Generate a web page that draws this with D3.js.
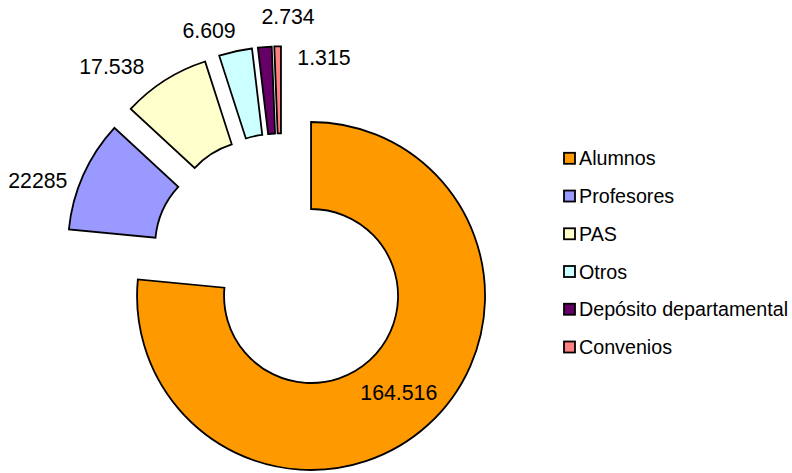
<!DOCTYPE html>
<html>
<head>
<meta charset="utf-8">
<script src="https://cdn.jsdelivr.net/npm/d3@7"></script>
<style>
  html, body { margin: 0; padding: 0; background: #fff; }
  svg { display: block; font-family: "Liberation Sans", Arial, sans-serif; }
</style>
</head>
<body>
<div id="chart"></div>
<script>
const SIZE = { width: 792, height: 473 }
const CENTER = { x: 281.8, y: 263.8 }
const RADIUS = { outer: 174, inner: 87, explode: 43.5, label: 252 }

// data
const categories = ["Alumnos", "Profesores", "PAS", "Otros", "Depósito departamental", "Convenios"];
const values = [164516, 22285, 17538, 6609, 2734, 1315];
const labels = ["164.516", "22285", "17.538", "6.609", "2.734", "1.315"];
const colors = ["#FF9900", "#9999FF", "#FFFFCC", "#CCFFFF", "#660066", "#FF8080"];

// label placement tweaks (layout, not data)
const LABEL_NUDGE = [[0, 0], [-14, 19.5], [-34.5, 15], [-19, 13], [26, 3.5], [47, 45.5]];

const svg = d3.select("#chart").append("svg")
    .attr("width", SIZE.width)
    .attr("height", SIZE.height);

const pie = d3.pie().sort(null).value(d => d);
const arcs = pie(values);
const arc = d3.arc().innerRadius(RADIUS.inner).outerRadius(RADIUS.outer);
const labelArc = d3.arc().innerRadius(RADIUS.label).outerRadius(RADIUS.label);
const midArc = d3.arc().innerRadius(RADIUS.inner).outerRadius(RADIUS.outer);

function offset(a, r){
  const m = (a.startAngle + a.endAngle) / 2;
  return [Math.sin(m) * r, -Math.cos(m) * r];
}

const g = svg.append("g").attr("transform", `translate(${CENTER.x},${CENTER.y})`);

g.selectAll(".slice").data(arcs).enter()
  .append("path")
  .attr("class", "slice")
  .attr("transform", d => { const o = offset(d, RADIUS.explode); return `translate(${o[0]},${o[1]})`; })
  .attr("d", arc)
  .attr("fill", (d, i) => colors[i])
  .attr("stroke", "#000")
  .attr("stroke-width", 1.8)
  .attr("stroke-linejoin", "miter");

g.selectAll(".val").data(arcs).enter()
  .append("text")
  .attr("class", "val")
  .attr("x", (d, i) => {
    if (i === 0) return offset(d, RADIUS.explode)[0] + midArc.centroid(d)[0] + LABEL_NUDGE[i][0];
    return labelArc.centroid(d)[0] + LABEL_NUDGE[i][0];
  })
  .attr("y", (d, i) => {
    if (i === 0) return offset(d, RADIUS.explode)[1] + midArc.centroid(d)[1] + LABEL_NUDGE[i][1];
    return labelArc.centroid(d)[1] + LABEL_NUDGE[i][1];
  })
  .attr("dy", "0.358em")
  .attr("text-anchor", "middle")
  .attr("font-size", "21.3px")
  .attr("fill", "#000")
  .text((d, i) => labels[i]);

// legend
const legendY = d3.scalePoint().domain(categories).range([158.3, 347]);
const legend = svg.append("g").attr("class", "legend");
const rows = legend.selectAll(".row").data(categories).enter()
  .append("g")
  .attr("class", "row")
  .attr("transform", d => `translate(564, ${legendY(d)})`);
rows.append("rect")
  .attr("x", 0).attr("y", -5.5)
  .attr("width", 11).attr("height", 11)
  .attr("fill", (d, i) => colors[i])
  .attr("stroke", "#000")
  .attr("stroke-width", 1.8);
rows.append("text")
  .attr("x", 15)
  .attr("dy", "0.358em")
  .attr("font-size", "19.7px")
  .attr("fill", "#000")
  .text(d => d);
</script>
</body>
</html>
